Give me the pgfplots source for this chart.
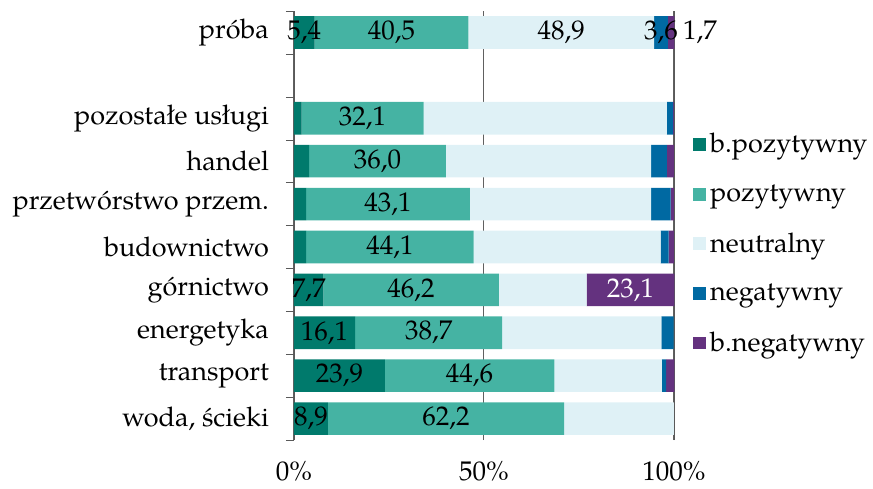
\documentclass[border=0pt]{standalone}
\usepackage{fontspec}
\setmainfont{TeX Gyre Pagella}
\usepackage{pgfplots}
\usepackage{pgfplotstable}
\pgfplotsset{compat=1.18}
\definecolor{cbp}{HTML}{007A6C}
\definecolor{cp}{HTML}{45B3A3}
\definecolor{cn}{HTML}{DFF1F6}
\definecolor{cng}{HTML}{0069A2}
\definecolor{cbn}{HTML}{64327F}
\pgfplotstableread{
y bp p n ng bn lbp lp ln lng lbn
9 5.4 40.5 48.9 3.6 1.7 {5,4} {40,5} {48,9} {3,6} {}
7 2.0 32.1 64.0 1.7 0.2 {} {32,1} {} {} {}
6 4.0 36.0 54.0 4.1 1.9 {} {36,0} {} {} {}
5 3.2 43.1 47.7 5.1 0.9 {} {43,1} {} {} {}
4 3.2 44.1 49.2 2.1 1.4 {} {44,1} {} {} {}
3 7.7 46.2 23.1 0.0 23.1 {7,7} {46,2} {} {} {23,1}
2 16.1 38.7 41.9 3.2 0.0 {16,1} {38,7} {} {} {}
1 23.9 44.6 28.3 1.1 2.2 {23,9} {44,6} {} {} {}
0 8.9 62.2 28.9 0.0 0.0 {8,9} {62,2} {} {} {}
}\data
\begin{document}
\begin{tikzpicture}[font=\fontsize{13.5}{16}\selectfont]
\begin{axis}[name=ax, scale only axis, width=190pt, height=214.5pt,
  xbar stacked, bar width=16.3pt, clip=false,
  xmin=0, xmax=100, ymin=-0.5, ymax=9.5,
  /pgf/number format/assume math mode=true,
  xtick={0,50,100}, xticklabels={0\%,50\%,100\%},
  ytick={0,1,2,3,4,5,6,7,9},
  yticklabels={{woda, ścieki},transport,energetyka,górnictwo,budownictwo,przetwórstwo przem.,handel,pozostałe usługi,próba},
  major tick length=0pt,
  extra y ticks={-0.5,0.5,1.5,2.5,3.5,4.5,5.5,6.5,7.5,8.5,9.5},
  extra y tick labels={},
  extra y tick style={major tick length=4pt, tick align=outside, tick style={gray!70!black}},
  xmajorgrids, grid style={gray!75!black, line width=0.5pt},
  separate axis lines, x axis line style={draw=none}, y axis line style={gray!70!black},
  ytick pos=left,
  yticklabel style={xshift=-9pt},
  xticklabel style={yshift=-7pt},
  nodes near coords, point meta=explicit symbolic,
  every node near coord/.append style={font=\fontsize{13.5}{16}\selectfont},
  legend style={draw=none, fill=none, at={(1.05,0.725)}, anchor=north west, inner sep=0pt,
    row sep=10.2pt, font=\fontsize{13.5}{16}\selectfont},
  legend cell align=left,
  legend image code/.code={\fill[#1] (0pt,-3.2pt) rectangle (6.4pt,3.2pt);},
]
\addplot[fill=cbp, draw=none, every node near coord/.append style={text=black}] table[x=bp, y=y, meta=lbp] {\data};
\addplot[fill=cp, draw=none, every node near coord/.append style={text=black}] table[x=p, y=y, meta=lp] {\data};
\addplot[fill=cn, draw=none, every node near coord/.append style={text=black}] table[x=n, y=y, meta=ln] {\data};
\addplot[fill=cng, draw=none, every node near coord/.append style={text=black}] table[x=ng, y=y, meta=lng] {\data};
\addplot[fill=cbn, draw=none, every node near coord/.append style={text=white}] table[x=bn, y=y, meta=lbn] {\data};
\legend{b.pozytywny,pozytywny,neutralny,negatywny,b.negatywny}
\node[anchor=center, xshift=13pt] at (axis cs:100,9) {1,7};
\end{axis}
\pgfresetboundingbox
\path[use as bounding box] ([shift={(-147pt,-24pt)}]ax.south west) rectangle ([shift={(289.5pt,220pt)}]ax.south west);
\end{tikzpicture}
\end{document}
